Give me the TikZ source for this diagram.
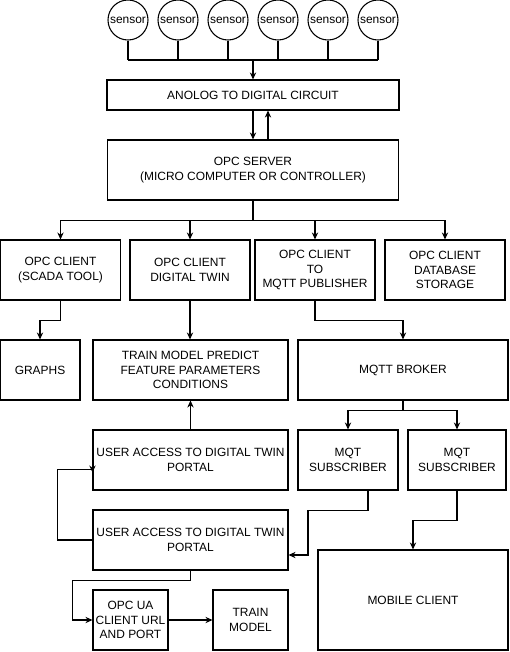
\documentclass[tikz,border=0pt]{standalone}
\usepackage{fontspec}
\setmainfont{Liberation Sans}
\usetikzlibrary{arrows.meta,positioning,calc}
\newdimen\px \px=0.025cm

\begin{document}
\begin{tikzpicture}[x=\px,y=-\px,line width=0.75pt,>={Stealth[length=5pt,width=4.5pt]},
    box/.style 2 args={draw,rectangle,inner sep=0pt,align=center,minimum width=#1\px,minimum height=#2\px},
    every node/.style={font=\fontsize{8.5}{10.5}\selectfont}]
    \useasboundingbox (0,0) rectangle (509,652);

    \foreach \i/\x in {1/128,2/178,3/228,4/278,5/328,6/378}
        \node[draw,circle,inner sep=0pt,minimum size=40\px] at (\x,20) (s\i) {sensor};
    \coordinate (bus) at (253,60);

    \node[box={292}{30}] at (253,95) (adc) {ANOLOG TO DIGITAL CIRCUIT};
    \node[box={291}{60}] at (253,170) (server) {OPC SERVER\\(MICRO COMPUTER OR CONTROLLER)};

    \node[box={120}{60}] at (60.5,270) (c1) {OPC CLIENT\\(SCADA TOOL)};
    \node[box={120}{60}] at (190,270) (c2) {OPC CLIENT\\DIGITAL TWIN};
    \node[box={120}{60}] at (315,270) (c3) {OPC CLIENT\\TO\\MQTT PUBLISHER};
    \node[box={120}{60}] at (445,270) (c4) {OPC CLIENT\\DATABASE\\STORAGE};

    \node[box={80}{60}]  at (40,370) (graphs) {GRAPHS};
    \node[box={195}{60}] at (190.5,370) (train) {TRAIN MODEL PREDICT\\FEATURE PARAMETERS\\CONDITIONS};
    \node[box={210}{60}] at (403,370) (broker) {MQTT BROKER};

    \node[box={195}{60}] at (190.5,460) (ua1) {USER ACCESS TO DIGITAL TWIN\\PORTAL};
    \node[box={100}{60}] at (348,460) (sub1) {MQT\\SUBSCRIBER};
    \node[box={98}{60}]  at (457,460) (sub2) {MQT\\SUBSCRIBER};

    \node[box={195}{60}] at (190.5,540) (ua2) {USER ACCESS TO DIGITAL TWIN\\PORTAL};
    \node[box={190}{100}] at (413,600) (mobile) {MOBILE CLIENT};

    \node[box={75}{60}] at (130.5,620) (opcua) {OPC UA\\CLIENT URL\\AND PORT};
    \node[box={75}{60}] at (250.5,620) (train2) {TRAIN\\MODEL};

    % sensors to converter
    \foreach \i in {1,...,6}
        \draw (s\i.south) -- (s\i.south |- bus);
    \draw (s1.south |- bus) -- (s6.south |- bus);
    \draw[->] (bus) -- (adc.north);
    \draw[->] (adc.south) -- (server.north);
    \draw[->] ([xshift=15\px]server.north) -- ([xshift=15\px]adc.south);

    % server to clients
    \foreach \c in {c1,c2,c3,c4}
        \draw[->] (server.south) -- ++(0,20) -| (\c.north);
    \draw[->] (c1.south) -- ++(0,20) -| (graphs.north);
    \draw[->] (c2.south) -- (c2.south |- train.north);
    \draw[->] (c3.south) -- ++(0,20) -| (broker.north);
    \draw[->] (broker.south) -- ++(0,10) -| (sub1.north);
    \draw[->] (broker.south) -- ++(0,10) -| (sub2.north);

    % portal loop
    \draw[->] (ua1.north) -- (train.south);
    \coordinate (ret) at ($(ua1.south west)+(0,-18)$);
    \draw[->] (ua2.west) -- ++(-35,0) |- ($(ret)+(0,-3)$) -- (ret);
    \draw[->] ([xshift=20\px]sub1.south) -- ++(0,20) -- ++(-60,0) |- ([yshift=-15\px]ua2.east);
    \draw[->] (sub2.south) -- ++(0,30) -| (mobile.north);
    \draw[->] (ua2.south) -- ++(0,10) -| ($(opcua.west)+(-20,0)$) -- (opcua.west);
    \draw[->] (opcua) -- (train2);
\end{tikzpicture}
\end{document}
